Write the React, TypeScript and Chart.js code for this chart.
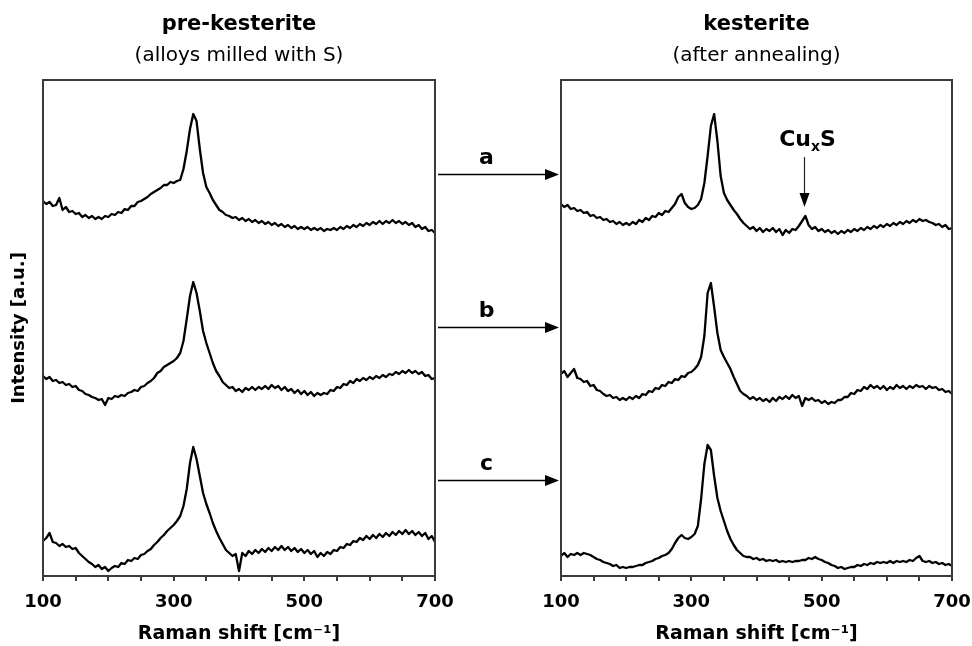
import React, { useEffect, useRef } from "react";
import { Chart, registerables } from "chart.js";

Chart.register(...registerables);

// Raman shift grid [cm-1]
const ramanShift = [
  100, 105, 110, 115, 120, 125, 130, 135, 140, 145,
  150, 155, 160, 165, 170, 175, 180, 185, 190, 195,
  200, 205, 210, 215, 220, 225, 230, 235, 240, 245,
  250, 255, 260, 265, 270, 275, 280, 285, 290, 295,
  300, 305, 310, 315, 320, 325, 330, 335, 340, 345,
  350, 355, 360, 365, 370, 375, 380, 385, 390, 395,
  400, 405, 410, 415, 420, 425, 430, 435, 440, 445,
  450, 455, 460, 465, 470, 475, 480, 485, 490, 495,
  500, 505, 510, 515, 520, 525, 530, 535, 540, 545,
  550, 555, 560, 565, 570, 575, 580, 585, 590, 595,
  600, 605, 610, 615, 620, 625, 630, 635, 640, 645,
  650, 655, 660, 665, 670, 675, 680, 685, 690, 695,
  700,
];

// pre-kesterite (alloys milled with S), stacked intensities [a.u.]
const preA = [
  375, 372, 374, 370, 371, 378, 366, 369, 364, 365,
  362, 363, 359, 361, 358, 360, 357, 359, 357, 360,
  359, 362, 361, 364, 363, 367, 366, 370, 370, 374,
  375, 377, 379, 382, 384, 386, 388, 391, 391, 394,
  393, 395, 396, 407, 425, 447, 462, 455, 427, 403,
  389, 383, 376, 371, 366, 364, 361, 360, 358, 359,
  356, 358, 355, 357, 354, 356, 353, 355, 352, 354,
  351, 353, 350, 352, 349, 351, 348, 350, 347, 349,
  347, 349, 346, 348, 346, 348, 345, 347, 346, 348,
  346, 349, 347, 350, 348, 351, 349, 352, 350, 353,
  351, 354, 352, 355, 352, 355, 353, 356, 353, 355,
  352, 354, 351, 353, 349, 351, 347, 349, 345, 346,
  343,
];
const preB = [
  200, 197, 199, 195, 196, 193, 194, 191, 192, 189,
  190, 186, 185, 182, 181, 179, 178, 176, 177, 171,
  178, 177, 180, 179, 181, 180, 183, 184, 186, 185,
  189, 190, 193, 195, 198, 203, 205, 209, 211, 213,
  215, 218, 223, 235, 257, 280, 294, 283, 265, 245,
  233, 223, 213, 205, 200, 194, 191, 188, 189, 185,
  187, 184, 188, 186, 189, 186, 189, 187, 190, 187,
  191, 188, 190, 186, 189, 185, 187, 183, 186, 182,
  185, 181, 184, 180, 183, 181, 183, 182, 186, 185,
  189, 188, 192, 191, 195, 193, 197, 195, 198, 196,
  199, 197, 200, 198, 201, 199, 202, 201, 204, 202,
  205, 203, 206, 203, 205, 202, 204, 200, 201, 197,
  198,
];
const preC = [
  35, 38, 43, 34, 33, 30, 32, 29, 30, 27,
  28, 23, 20, 17, 14, 12, 9, 11, 7, 9,
  5, 8, 10, 9, 13, 12, 16, 15, 18, 17,
  21, 22, 25, 27, 31, 34, 38, 41, 45, 48,
  51, 55, 60, 70, 87, 113, 129, 117, 100, 83,
  72, 63, 53, 45, 38, 32, 26, 23, 20, 22,
  5, 23, 20, 25, 22, 26, 23, 27, 24, 28,
  25, 29, 26, 30, 26, 29, 25, 28, 24, 27,
  23, 26, 22, 25, 19, 23, 20, 24, 22, 26,
  25, 29, 28, 32, 31, 35, 34, 38, 36, 40,
  37, 41, 38, 42, 39, 43, 40, 44, 41, 45,
  42, 46, 42, 45, 41, 44, 40, 43, 37, 40,
  34,
];

// kesterite (after annealing), stacked intensities [a.u.]
const postA = [
  372, 369, 371, 367, 368, 365, 366, 363, 364, 360,
  361, 358, 359, 356, 357, 354, 355, 352, 354, 351,
  353, 351, 354, 352, 356, 354, 358, 356, 360, 359,
  363, 361, 365, 364, 368, 372, 379, 382, 373, 369,
  367, 368, 371, 377, 393, 420, 450, 462, 435, 400,
  383, 376, 371, 366, 362, 357, 353, 350, 347, 349,
  345, 348, 344, 347, 345, 348, 344, 347, 341, 346,
  343, 347, 346, 350, 355, 360, 351, 347, 349, 345,
  347, 344, 346, 343, 345, 342, 345, 343, 346, 344,
  347, 345, 348, 346, 349, 347, 350, 348, 351, 349,
  352, 350, 353, 351, 354, 352, 355, 353, 356, 354,
  357, 355, 356, 354, 353, 351, 352, 349, 351, 347,
  348,
];
const postB = [
  202, 205, 199, 203, 207, 198, 197, 194, 195, 190,
  191, 186, 185, 182, 180, 181, 178, 179, 176, 178,
  176, 179, 177, 180, 178, 182, 181, 185, 184, 188,
  187, 191, 190, 194, 193, 197, 196, 200, 199, 203,
  204, 207, 211, 219, 240, 283, 293, 269, 243, 226,
  219, 213, 207, 199, 192, 185, 182, 180, 177, 179,
  176, 178, 175, 177, 174, 178, 175, 179, 177, 180,
  177, 181, 178, 180, 170, 178, 176, 178, 175, 176,
  173, 175, 172, 174, 173, 176, 176, 179, 179, 183,
  182, 186, 185, 189, 187, 191, 188, 190, 187, 190,
  186, 189, 187, 191, 188, 190, 187, 190, 188, 191,
  189, 190, 187, 190, 188, 189, 186, 187, 184, 185,
  182,
];
const postC = [
  20, 23, 19, 22, 21, 23, 21, 23, 22, 21,
  19, 17, 16, 14, 13, 12, 10, 11, 8, 9,
  8, 9, 9, 10, 11, 11, 13, 14, 15, 17,
  18, 20, 21, 23, 27, 33, 38, 41, 38, 37,
  39, 42, 50, 77, 112, 131, 126, 100, 78, 65,
  55, 45, 37, 31, 26, 23, 20, 19, 19, 17,
  18, 16, 17, 15, 16, 15, 16, 14, 15, 14,
  15, 14, 15, 15, 16, 16, 18, 17, 19, 17,
  16, 14, 13, 11, 10, 8, 9, 7, 8, 9,
  9, 11, 10, 12, 11, 13, 12, 14, 13, 14,
  13, 15, 13, 15, 14, 15, 14, 16, 15, 18,
  20, 15, 14, 15, 13, 14, 12, 13, 11, 12,
  10,
];

const panelTitles = ["pre-kesterite", "kesterite"];
const panelSubtitles = ["(alloys milled with S)", "(after annealing)"];
const xTicksShown = [100, 300, 500, 700];
const sampleLabels = ["a", "b", "c"];
const arrowLevels = [402, 249, 96];
const cuxsShift = 473;
const cuxsArrowTip = 369;

const FONT = "'DejaVu Sans', sans-serif";
const FRAME = "#3a3a3a";

function decoPlugin(title: string, subtitle: string) {
  return {
    id: "deco",
    afterDraw(chart: any) {
      const { ctx, chartArea: a } = chart;
      ctx.save();
      ctx.strokeStyle = FRAME;
      ctx.lineWidth = 2;
      ctx.strokeRect(a.left, a.top, a.right - a.left, a.bottom - a.top);
      const cx = (a.left + a.right) / 2;
      ctx.fillStyle = "#000";
      ctx.textAlign = "center";
      ctx.textBaseline = "alphabetic";
      ctx.font = `bold 21px ${FONT}`;
      ctx.fillText(title, cx, a.top - 50);
      ctx.font = `20px ${FONT}`;
      ctx.fillText(subtitle, cx, a.top - 19);
      ctx.restore();
    },
  };
}

function buildConfig(
  series: number[][],
  title: string,
  subtitle: string,
  padding: any,
  showY: boolean,
  extra: any[]
): any {
  return {
    type: "line",
    data: {
      datasets: series.map((s) => ({
        data: ramanShift.map((x, i) => ({ x, y: s[i] })),
        borderColor: "#000",
        borderWidth: 2.3,
        borderJoinStyle: "round",
        pointRadius: 0,
        fill: false,
        tension: 0,
      })),
    },
    options: {
      animation: false,
      responsive: false,
      events: [],
      layout: { padding },
      plugins: {
        legend: { display: false },
        tooltip: { enabled: false },
      },
      scales: {
        x: {
          type: "linear",
          min: 100,
          max: 700,
          afterFit: (scale: any) => {
            scale.height = 70;
          },
          border: { display: false },
          grid: {
            display: true,
            drawOnChartArea: false,
            drawTicks: true,
            tickLength: 5,
            lineWidth: 2,
            color: FRAME,
          },
          ticks: {
            stepSize: 50,
            autoSkip: false,
            maxRotation: 0,
            minRotation: 0,
            padding: 11,
            color: "#000",
            font: { family: FONT, size: 18, weight: "bold" },
            callback: (v: any) => (xTicksShown.includes(Number(v)) ? String(v) : ""),
          },
          title: {
            display: true,
            text: "Raman shift [cm\u207B\u00B9]",
            color: "#000",
            font: { family: FONT, size: 19, weight: "bold" },
            padding: { top: 0, bottom: 1 },
          },
        },
        y: {
          min: 0,
          max: 496,
          display: showY,
          afterFit: (scale: any) => {
            if (showY) scale.width = 43;
          },
          border: { display: false },
          grid: { display: false },
          ticks: { display: false },
          title: {
            display: true,
            text: "Intensity [a.u.]",
            color: "#000",
            font: { family: FONT, size: 18, weight: "bold" },
            padding: { top: 9, bottom: 0 },
          },
        },
      },
    },
    plugins: [decoPlugin(title, subtitle), ...extra],
  };
}

export default function App() {
  const leftRef = useRef<HTMLCanvasElement>(null);
  const rightRef = useRef<HTMLCanvasElement>(null);

  useEffect(() => {
    const left = new Chart(
      leftRef.current as HTMLCanvasElement,
      buildConfig([preA, preB, preC], panelTitles[0], panelSubtitles[0], { top: 80, left: 0, right: 537, bottom: 0 }, true, [])
    );

    const linkPlugin = {
      id: "links",
      afterDraw(chart: any) {
        const { ctx, chartArea: a, scales } = chart;
        const la = left.chartArea;
        ctx.save();
        ctx.strokeStyle = "#000";
        ctx.fillStyle = "#000";
        ctx.lineWidth = 1.4;
        arrowLevels.forEach((lv, i) => {
          const y = Math.round(scales.y.getPixelForValue(lv)) + 0.5;
          const x0 = la.right + 3;
          const x1 = a.left - 2;
          ctx.beginPath();
          ctx.moveTo(x0, y);
          ctx.lineTo(x1 - 12, y);
          ctx.stroke();
          ctx.beginPath();
          ctx.moveTo(x1, y);
          ctx.lineTo(x1 - 14, y - 5.5);
          ctx.lineTo(x1 - 14, y + 5.5);
          ctx.closePath();
          ctx.fill();
          ctx.font = `bold 22px ${FONT}`;
          ctx.textAlign = "center";
          ctx.textBaseline = "alphabetic";
          ctx.fillText(sampleLabels[i], (x0 + x1) / 2 - 12, y - 11);
        });

        // CuxS marker
        const px = Math.round(scales.x.getPixelForValue(cuxsShift)) + 0.5;
        const tip = scales.y.getPixelForValue(cuxsArrowTip);
        ctx.strokeStyle = "#222";
        ctx.lineWidth = 1.2;
        ctx.beginPath();
        ctx.moveTo(px, tip - 50);
        ctx.lineTo(px, tip - 12);
        ctx.stroke();
        ctx.beginPath();
        ctx.moveTo(px, tip);
        ctx.lineTo(px - 5, tip - 14);
        ctx.lineTo(px + 5, tip - 14);
        ctx.closePath();
        ctx.fill();

        ctx.textAlign = "left";
        const big = `bold 22px ${FONT}`;
        const small = `bold 14px ${FONT}`;
        ctx.font = big;
        const wCu = ctx.measureText("Cu").width;
        const wS = ctx.measureText("S").width;
        ctx.font = small;
        const wx = ctx.measureText("x").width;
        const total = wCu + wx + wS;
        let sx = px + 3 - total / 2;
        const base = tip - 61;
        ctx.font = big;
        ctx.fillText("Cu", sx, base);
        sx += wCu;
        ctx.font = small;
        ctx.fillText("x", sx, base + 5);
        sx += wx;
        ctx.font = big;
        ctx.fillText("S", sx, base);
        ctx.restore();
      },
    };

    const right = new Chart(
      rightRef.current as HTMLCanvasElement,
      buildConfig([postA, postB, postC], panelTitles[1], panelSubtitles[1], { top: 80, left: 561, right: 48, bottom: 0 }, false, [linkPlugin])
    );

    return () => {
      right.destroy();
      left.destroy();
    };
  }, []);

  return (
    <div style={{ position: "absolute", left: 0, top: 0, width: 972, height: 646, background: "#fff", overflow: "hidden" }}>
      <canvas ref={leftRef} width={972} height={646} style={{ position: "absolute", left: 0, top: 0 }} />
      <canvas ref={rightRef} width={1000} height={646} style={{ position: "absolute", left: 0, top: 0 }} />
    </div>
  );
}
